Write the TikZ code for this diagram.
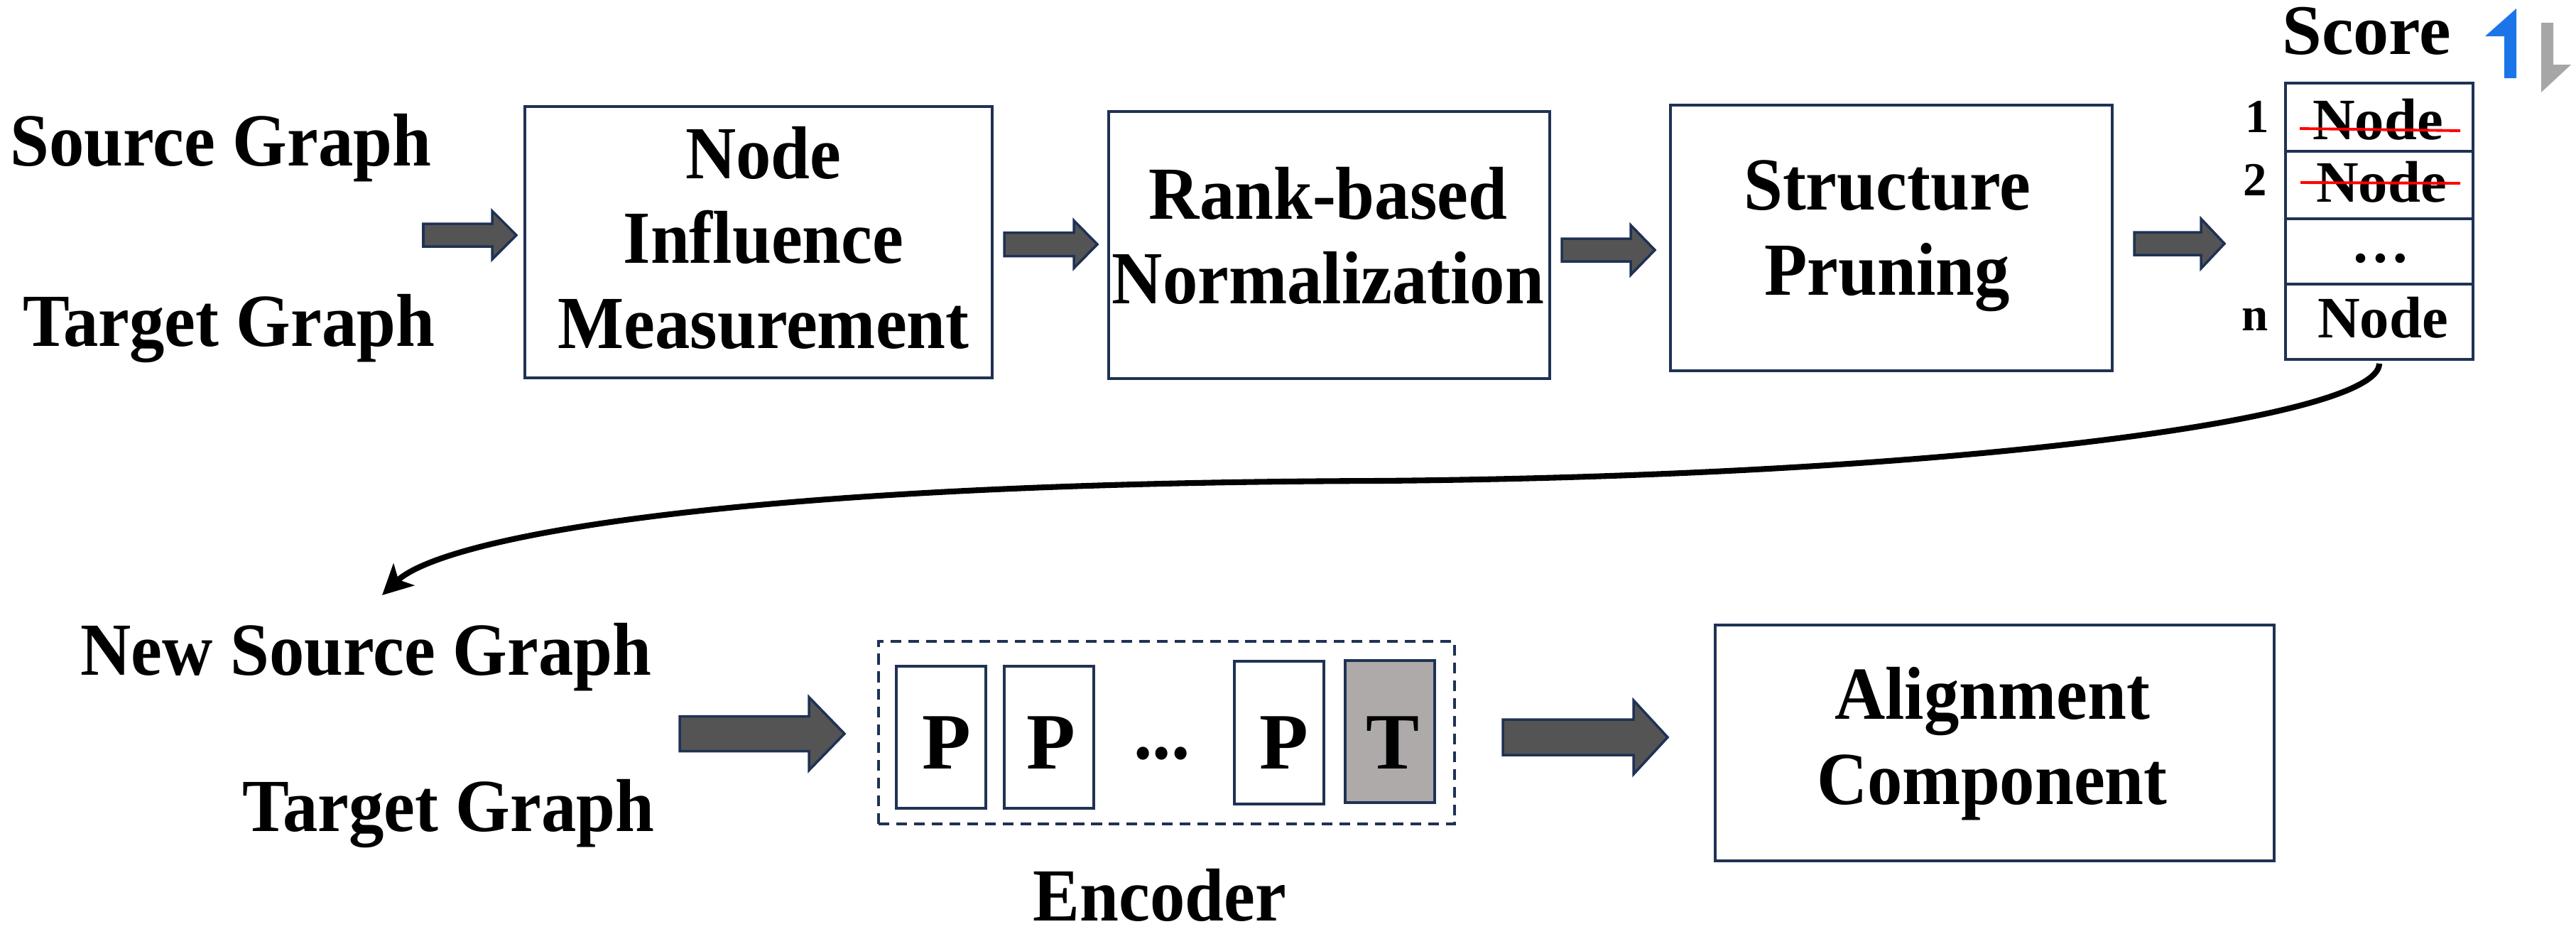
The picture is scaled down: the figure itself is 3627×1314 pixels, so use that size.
\documentclass[tikz,border=0pt]{standalone}
\usepackage{fontspec}
\setmainfont{Liberation Serif}[FakeStretch=0.935]
\newfontfamily\plainfam{Liberation Serif}
\usetikzlibrary{arrows.meta}
\definecolor{navy}{RGB}{31,50,84}
\definecolor{arrfill}{RGB}{84,84,84}
\definecolor{tfill}{RGB}{174,170,170}
\definecolor{upblue}{RGB}{28,117,232}
\definecolor{downgray}{RGB}{166,166,166}
\definecolor{strikered}{RGB}{255,0,0}
\tikzset{
  stepbox/.style={draw=navy, line width=1.2pt, fill=white, inner sep=0pt},
  cell/.style={draw=navy, line width=1.3pt, inner sep=0pt, minimum width=2.64cm},
  tok/.style={draw=navy, line width=1.2pt, inner sep=0pt, minimum width=1.26cm},
  encbox/.style={draw=navy, line width=1.1pt, dash pattern=on 4.3pt off 2.8pt, inner sep=0pt},
  lbl/.style={inner sep=0pt, align=center, font=\fontsize{30}{34}\selectfont\bfseries},
  celltxt/.style={inner sep=0pt, font=\plainfam\fontsize{23.5}{26}\selectfont\bfseries},
  numtxt/.style={inner sep=0pt, font=\plainfam\fontsize{19}{22}\selectfont\bfseries},
  scoretxt/.style={inner sep=0pt, font=\plainfam\fontsize{28.5}{32}\selectfont\bfseries},
  toktxt/.style={inner sep=0pt, font=\plainfam\fontsize{32}{36}\selectfont\bfseries},
  dotstxt/.style={inner sep=0pt, font=\fontsize{32}{36}\selectfont\bfseries},
  blockarr/.style={fill=arrfill, draw=navy, line width=1pt, line join=miter},
  strikeline/.style={draw=strikered, line width=1.1pt},
  curvearr/.style={line width=2.3pt, -{Stealth[length=12pt,width=12pt,inset=3pt]}},
}
\newcommand\blockarrow[6]{%
  \path[blockarr] (#1,{#4-#5}) -- (#2,{#4-#5}) -- (#2,{#4-#6}) -- (#3,#4) -- (#2,{#4+#6}) -- (#2,{#4+#5}) -- (#1,{#4+#5}) -- cycle;}
\begin{document}
\begin{tikzpicture}[x=0.01cm, y=-0.01cm]
\useasboundingbox (0,0) rectangle (3627,1314);

% ---------- top row ----------
\node[lbl, anchor=base east] (src) at (608,233) {Source Graph};
\node[lbl, anchor=base east] (tgt) at (613,487) {Target Graph};

\node[stepbox, minimum width=6.58cm, minimum height=3.82cm] (nim) at (1068,341) {};
\node[lbl] (nimtxt) at (1075,335) {Node\\Influence\\Measurement};

\node[stepbox, minimum width=6.21cm, minimum height=3.76cm] (rbn) at (1871.5,345) {};
\node[lbl] (rbntxt) at (1870,332) {Rank-based\\Normalization};

\node[stepbox, minimum width=6.22cm, minimum height=3.74cm] (sp) at (2663,335) {};
\node[lbl] (sptxt) at (2657,332) {Structure\\Pruning};

\blockarrow{596}{693}{727}{331}{16}{34}
\blockarrow{1414}{1512}{1545}{344}{16.5}{33.5}
\blockarrow{2199}{2296}{2330}{352}{16}{35}
\blockarrow{3005}{3099}{3132}{343}{16}{35}

% ---------- score table ----------
\node[scoretxt, anchor=base] (score) at (3332,76) {Score};
\path[fill=upblue] (3543,12) -- (3499,51) -- (3526,51) -- (3526,110) -- (3543,110) -- cycle;
\path[fill=downgray] (3578,32) -- (3595,32) -- (3595,91) -- (3620,91) -- (3578,130) -- cycle;

\node[cell, minimum height=0.96cm] (r1) at (3350,165) {};
\node[cell, minimum height=0.95cm] (r2) at (3350,260.5) {};
\node[cell, minimum height=0.92cm] (r3) at (3350,354) {};
\node[cell, minimum height=1.06cm] (r4) at (3350,453) {};

\node[celltxt, anchor=base] (n1) at (3348,196) {Node};
\node[celltxt, anchor=base] (n2) at (3353,284) {Node};
\node[celltxt, anchor=base] (n3) at (3352,369) {…};
\node[celltxt, anchor=base] (n4) at (3355,475) {Node};
\draw[strikeline] (3238,181) -- (3464,184);
\draw[strikeline] (3239,257) -- (3464,258);

\node[numtxt, anchor=base] (k1) at (3178,186) {1};
\node[numtxt, anchor=base] (k2) at (3175,275) {2};
\node[numtxt, anchor=base] (kn) at (3175,465) {n};

% ---------- curved connector ----------
\coordinate (cend) at (538,838);
\draw[curvearr, shorten <=1pt] (r4.south) .. controls (3350,590) and (2750,670) .. (1942,677)
  .. controls (1000,680) and (620,760) .. (cend);

% ---------- bottom row ----------
\node[lbl, anchor=base east] (nsrc) at (918,950) {New Source Graph};
\node[lbl, anchor=base east] (tgt2) at (922,1170) {Target Graph};

\blockarrow{957}{1139}{1189}{1033}{24.5}{51.5}

\node[encbox, minimum width=8.11cm, minimum height=2.57cm] (enc) at (1642.5,1031.5) {};
\node[tok, minimum height=2.00cm] (p1) at (1325,1038) {};
\node[tok, minimum height=2.00cm] (p2) at (1477,1038) {};
\node[tok, minimum height=2.01cm] (p3) at (1801,1031.5) {};
\node[tok, minimum height=2.00cm, fill=tfill] (tt) at (1957,1030) {};
\node[toktxt, anchor=base] (p1t) at (1333,1082) {P};
\node[toktxt, anchor=base] (p2t) at (1480,1082) {P};
\node[dotstxt, anchor=base] (edots) at (1636,1068) {...};
\node[toktxt, anchor=base] (p3t) at (1808,1082) {P};
\node[toktxt, anchor=base] (ttt) at (1961,1082) {T};
\node[lbl, anchor=base] (enclbl) at (1633,1296) {Encoder};

\blockarrow{2116}{2300}{2348}{1038}{25}{52}

\node[stepbox, minimum width=7.87cm, minimum height=3.32cm] (ac) at (2808.5,1046) {};
\node[lbl] (actxt) at (2805,1047) {Alignment\\Component};
\end{tikzpicture}
\end{document}
